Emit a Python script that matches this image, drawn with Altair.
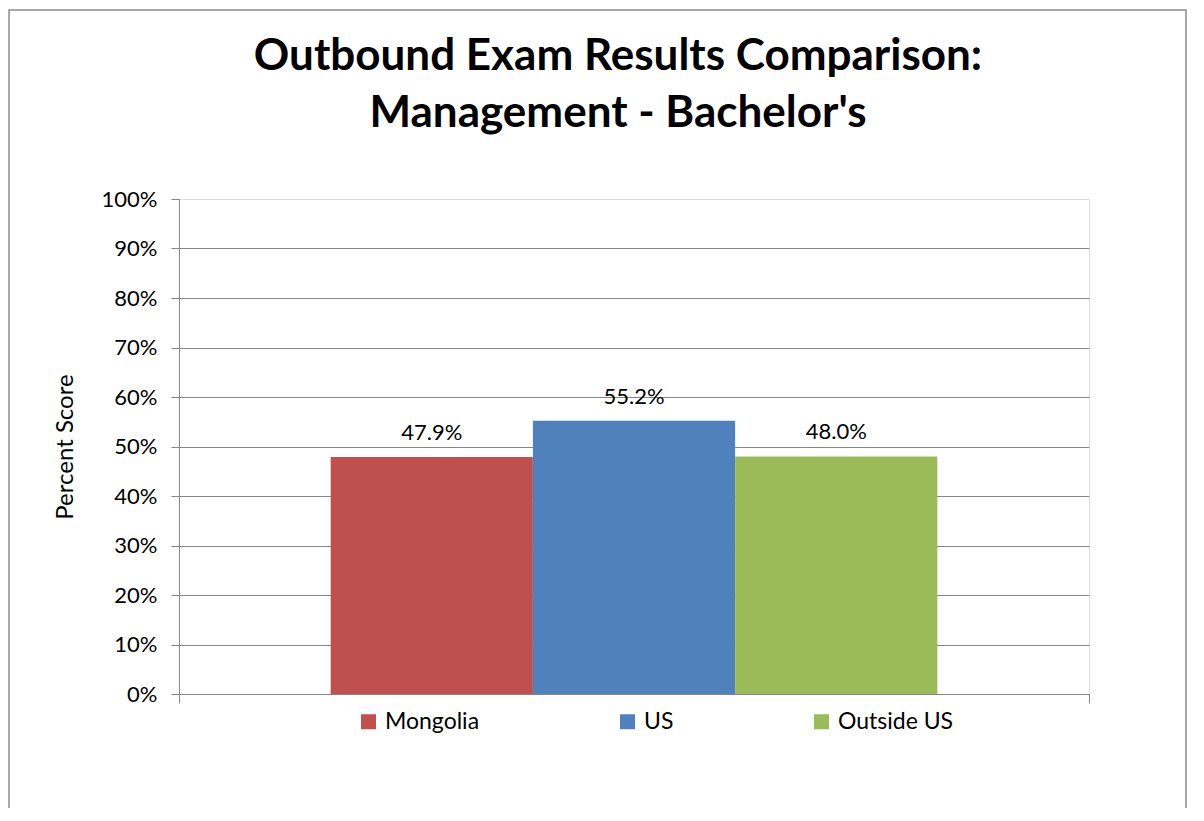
import altair as alt
import pandas as pd

series = ["Mongolia", "US", "Outside US"]
scores = [0.479, 0.552, 0.480]
labels = ["47.9%", "55.2%", "48.0%"]
category = ["Management", "Management", "Management"]
colors = ["#C0504D", "#4F81BD", "#9BBB59"]
y_ticks = [0, 0.1, 0.2, 0.3, 0.4, 0.5, 0.6, 0.7, 0.8, 0.9, 1.0]
title_lines = ["Outbound Exam Results Comparison:", "Management - Bachelor's"]

df = pd.DataFrame({"cat": category, "series": series, "score": scores, "label": labels})

FONT = "Lato"
GRAY = "#868686"

x_enc = alt.X(
    "cat:N",
    scale=alt.Scale(paddingInner=0, paddingOuter=0),
    axis=alt.Axis(labels=False, title=None, ticks=True, tickBand="extent", tickSize=9,
                  tickColor=GRAY, domainColor=GRAY, grid=False, tickWidth=1, domainWidth=1),
)
xoff = alt.XOffset("series:N", sort=series, scale=alt.Scale(paddingInner=0, paddingOuter=0.75))
y_enc = alt.Y(
    "score:Q",
    scale=alt.Scale(domain=[0, 1]),
    axis=alt.Axis(values=y_ticks, format=".0%", title="Percent Score",
                  labelFont=FONT, labelFontSize=22, labelColor="black",
                  tickSize=8, tickColor=GRAY, domainColor=GRAY, gridColor=GRAY,
                  gridOpacity={"condition": {"test": "datum.value >= 1", "value": 0}, "value": 1},
                  labelPadding=14, titleFont=FONT, titleFontSize=24, titleFontWeight="normal",
                  titleColor="black", titlePadding=24),
)

frame = alt.Chart(alt.Data(values=[{"a": 1}])).mark_rect(
    fill=None, stroke="#8C8C8C", strokeWidth=1.5
).encode(x=alt.value(-170), x2=alt.value(1007), y=alt.value(-189), y2=alt.value(640))

bars = alt.Chart(df).mark_bar().encode(
    x=x_enc, xOffset=xoff, y=y_enc,
    color=alt.Color("series:N", scale=alt.Scale(domain=series, range=colors),
                    legend=alt.Legend(orient="none", legendX=178, legendY=511, direction="horizontal",
                                      symbolType="square", symbolSize=225, symbolStrokeWidth=0,
                                      labelFont=FONT, labelFontSize=23, labelColor="black",
                                      labelOffset=5, columnPadding=136, title=None)),
)

text = alt.Chart(df).mark_text(font=FONT, fontSize=22, dy=-17, baseline="alphabetic", color="black").encode(
    x=x_enc, xOffset=xoff, y=y_enc, text="label:N"
)

chart = alt.layer(frame, bars, text).properties(
    width=910, height=495,
    autosize=alt.AutoSizeParams(type="none"),
    padding={"left": 171, "top": 191, "right": 98, "bottom": 114},
    title=alt.TitleParams(text=title_lines, font=FONT, fontSize=44, fontWeight="bold",
                          anchor="middle", dx=-16, lineHeight=57, offset=-162,
                          baseline="alphabetic", color="black"),
).configure_view(stroke="#6F8FC8", strokeDash=[2, 2], strokeWidth=1).configure(background="white")

chart.save("out.html", embed_options={"renderer": "svg", "actions": False})
